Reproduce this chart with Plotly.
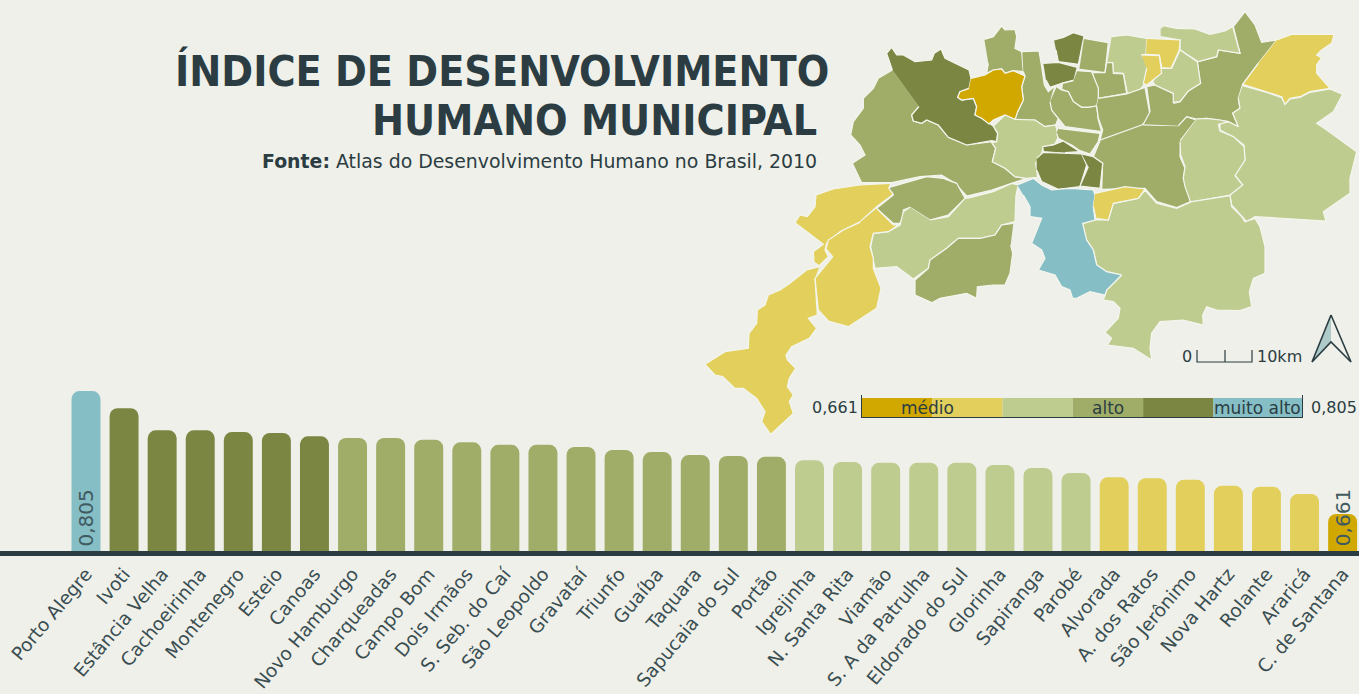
import plotly.graph_objects as go

BG = "#eff0e9"
INK = "#2b3d42"
GOLD = "#d1a800"
YELLOW = "#e2cf5c"
LIGHT = "#bfcc8f"
MID = "#a0ad69"
DARK = "#7b8642"
TEAL = "#86bec6"

municipios = ["Porto Alegre", "Ivoti", "Estância Velha", "Cachoeirinha", "Montenegro", "Esteio", "Canoas",
              "Novo Hamburgo", "Charqueadas", "Campo Bom", "Dois Irmãos", "S. Seb. do Caí", "São Leopoldo",
              "Gravataí", "Triunfo", "Guaíba", "Taquara", "Sapucaia do Sul", "Portão", "Igrejinha",
              "N. Santa Rita", "Viamão", "S. A da Patrulha", "Eldorado do Sul", "Glorinha", "Sapiranga",
              "Parobé", "Alvorada", "A. dos Ratos", "São Jerônimo", "Nova Hartz", "Rolante", "Araricá",
              "C. de Santana"]
idhm = [0.805, 0.785, 0.759, 0.759, 0.757, 0.756, 0.752, 0.750, 0.750, 0.748, 0.745, 0.742, 0.742,
        0.7395, 0.736, 0.7335, 0.730, 0.729, 0.728, 0.724, 0.722, 0.721, 0.721, 0.721, 0.7185, 0.715,
        0.709, 0.704, 0.703, 0.701, 0.694, 0.693, 0.6845, 0.661]
classes = [TEAL] + [DARK] * 6 + [MID] * 12 + [LIGHT] * 8 + [YELLOW] * 6 + [GOLD]

legend_breaks = [0.661, 0.684, 0.707, 0.730, 0.753, 0.776, 0.805]
legend_colors = [GOLD, YELLOW, LIGHT, MID, DARK, TEAL]
legend_names = [("médio", 0.6825), ("alto", 0.7415), ("muito alto", 0.7905)]


def c5(p): return [(845 + x / 3, 20 + y / 3) for x, y in p]
def c6(p): return [(1100 + x / 3, 5 + y / 3) for x, y in p]
def c7(p): return [(700 + x / 3, 175 + y / 3) for x, y in p]
def c8(p): return [(1010 + x / 3, 175 + y / 3) for x, y in p]
def c11(p): return [(1030 + x / 3, 30 + y / 3) for x, y in p]


west_big = c5([(142,150),(100,175),(85,205),(55,235),(55,265),(25,305),(17,345),(45,375),(60,405),(22,430),(50,488),(140,488),(225,470),(290,465),(330,490),(365,528),(440,510),(520,485),(545,475),(510,470),(480,445),(442,425),(452,385),(440,365),(365,375),(310,352),(280,315),(245,300),(230,310),(205,303),(200,285),(222,260)])
west_dark = c5([(142,150),(125,100),(140,82),(155,105),(175,105),(210,125),(260,120),(268,100),(288,87),(300,115),(330,130),(372,150),(378,175),(372,205),(345,215),(338,232),(350,240),(385,235),(395,260),(390,285),(410,295),(425,305),(445,318),(458,340),(455,365),(440,362),(365,375),(310,352),(280,315),(245,300),(230,310),(205,303),(200,285),(222,260)])
gold_city = c5([(378,175),(420,165),(445,150),(470,147),(480,160),(505,152),(540,168),(530,200),(535,240),(518,275),(510,298),(480,285),(445,300),(432,312),(410,295),(390,285),(395,260),(385,235),(350,240),(338,232),(345,215),(372,205)])
north_mid = c5([(418,58),(445,50),(470,18),(480,30),(510,28),(515,50),(510,85),(530,95),(535,155),(505,152),(480,160),(470,147),(445,150),(425,160),(430,130)])
column_mid = c5([(532,95),(582,93),(590,140),(598,195),(610,215),(630,198),(618,240),(620,270),(640,295),(632,315),(600,320),(570,300),(515,300),(510,298),(518,275),(535,240),(530,200),(540,168),(535,155)])
center_light = c5([(480,285),(445,318),(458,340),(455,365),(440,368),(452,385),(442,425),(480,445),(510,470),(545,475),(578,472),(572,430),(590,400),(595,380),(630,372),(640,350),(632,315),(600,320),(570,300),(515,300),(510,298)])
north_dark_a = c11([(72,30),(100,22),(130,8),(162,18),(145,103),(85,95),(78,60)])
north_dark_b = c11([(40,100),(85,97),(142,112),(132,150),(95,160),(60,172),(48,150)])
north_mid_a = c11([(162,25),(235,38),(225,128),(148,118)])
north_light = c11([(245,20),(290,15),(350,25),(348,72),(335,75),(352,100),(345,160),(325,185),(292,190),(280,130),(250,128),(248,98),(232,98)])
inner_step = c11([(190,128),(225,128),(230,98),(248,98),(250,130),(280,132),(290,190),(205,205),(205,175),(190,150)])
inner_c = c11([(142,122),(185,125),(205,175),(205,205),(200,228),(175,232),(155,232),(130,215),(115,185),(95,178),(97,160),(130,152)])
inner_d = c11([(80,170),(95,180),(115,185),(130,215),(155,232),(175,232),(200,228),(205,270),(215,305),(145,295),(105,290),(85,265),(65,240),(60,215)])
inner_e = c11([(205,205),(290,192),(345,172),(362,265),(335,285),(210,330),(218,300),(205,265),(200,228)])
inner_f = c11([(85,295),(210,310),(205,335),(180,372),(150,362),(125,345),(100,333),(85,325),(80,310)])
dark_top = c11([(40,363),(38,350),(70,345),(100,333),(150,365),(105,368)])
dark_big = c11([(20,385),(40,367),(155,372),(170,405),(150,470),(85,478),(35,455),(20,420)])
dark_right = c11([(155,372),(190,380),(218,400),(215,430),(210,475),(150,468),(175,410)])
east_mid = c6([(130,360),(235,362),(260,335),(288,345),(242,405),(240,455),(255,490),(250,520),(272,590),(230,608),(170,590),(135,550)]) + c11([(215,478),(218,400),(190,380),(210,332)])
ne_mid = c6([(130,358),(150,320),(140,245),(165,240),(220,265),(222,295),(240,290),(265,258),(300,235),(292,170),(350,155),(355,135),(420,145),(400,65),(435,20),(465,60),(485,112),(530,105),(475,175),(428,238),(415,280),(420,310),(398,325),(415,365),(385,350),(320,340),(290,342),(260,335),(235,362)])
ne_yellow = c6([(530,105),(575,88),(702,88),(695,115),(665,135),(650,150),(665,158),(650,180),(650,205),(690,250),(630,260),(600,275),(570,280),(555,298),(545,275),(500,260),(428,238),(475,175)])
east_light = c6([(428,242),(500,262),(545,278),(555,298),(570,282),(600,277),(630,262),(690,252),(728,268),(700,320),(650,355),(680,375),(770,440),(750,520),(750,565),(670,620),(678,648),(465,635),(440,650),(395,600),(390,570),(428,540),(405,510),(435,465),(432,420),(400,395),(360,375),(360,355),(385,350),(415,365),(398,325),(420,310),(415,280)])
east_inner = c6([(290,342),(320,340),(360,345),(385,350),(355,358),(360,378),(400,395),(432,425),(435,465),(405,512),(428,540),(390,570),(272,592),(255,545),(250,520),(255,485),(242,450),(240,410)])
top_light = c6([(182,70),(190,62),(230,70),(285,72),(330,88),(375,78),(398,65),(420,145),(355,135),(350,155),(295,170),(240,135),(240,105),(182,95)])
small_light = c6([(180,190),(215,190),(240,135),(292,170),(302,235),(265,258),(240,290),(220,292),(220,265),(165,240),(160,232)])
top_yellow = c6([(140,100),(240,105),(238,135),(213,190),(185,188),(178,150),(138,148)])
low_yellow = c6([(125,150),(178,152),(185,205),(140,240),(130,235),(140,190)])
nw_yellow = c7([(570,25),(480,30),(400,42),(348,60),(345,95),(322,125),(300,120),(285,143),(370,208),(340,230),(342,262),(358,272),(385,245),(375,225),(380,205),(420,170),(480,140),(530,95),(580,58),(565,38)])
sw_yellow = c7([(358,275),(320,285),(270,325),(240,345),(205,360),(195,390),(172,405),(170,445),(147,475),(145,520),(75,530),(15,568),(45,600),(68,605),(105,640),(130,640),(170,670),(195,710),(185,740),(212,778),(280,715),(268,680),(280,660),(262,635),(268,610),(287,580),(262,555),(258,540),(275,515),(328,490),(350,460),(325,430),(352,420),(345,310)])
oval_yellow = c7([(530,100),(580,150),(595,150),(565,170),(520,175),(510,215),(520,250),(520,280),(543,340),(530,400),(445,455),(385,438),(355,405),(345,310),(398,245),(378,222),(385,195),(430,165),(480,142)])
river_mid = c7([(580,60),(530,100),(580,145),(600,145),(610,125),(610,105),(630,97),(690,135),(745,120),(795,70),(770,25),(730,10),(680,5),(590,30),(565,38)])
band_light = c7([(630,97),(610,110),(600,150),(565,170),(520,175),(512,215),(520,255),(525,280),(590,275),(640,312),(685,280),(690,255),(740,220),(775,190),(840,190),(885,180),(905,150),(945,140),(948,60),(955,30),(935,25),(880,50),(810,68),(795,70),(745,125),(690,135)])
south_mid = c7([(940,145),(905,150),(885,180),(840,190),(775,190),(740,220),(690,255),(685,280),(645,315),(645,360),(695,383),(720,370),(800,355),(830,370),(832,335),(880,330),(915,330),(930,295),(938,235),(932,210)])
capital_teal = c8([(22,30),(70,10),(95,30),(125,45),(180,40),(250,45),(255,60),(250,95),(255,135),(218,145),(230,195),(250,225),(260,270),(290,290),(335,300),(290,345),(285,360),(240,350),(200,370),(188,370),(180,345),(155,335),(135,300),(85,285),(105,250),(95,225),(65,205),(75,180),(95,130),(60,125),(60,95),(40,60)])
small_yellow = c8([(255,55),(320,42),(345,35),(405,42),(385,70),(310,85),(295,135),(258,130),(250,95)])
se_light = c8([(220,145),(255,135),(295,135),(310,85),(385,70),(405,45),(440,85),(500,100),(545,80),(660,62),(665,95),(695,125),(705,140),(735,130),(750,155),(765,215),(765,295),(730,310),(718,350),(725,395),(690,407),(620,405),(590,395),(578,420),(580,450),(520,435),(450,440),(425,475),(420,520),(425,555),(370,520),(292,510),(305,490),(285,472),(325,430),(330,400),(310,380),(280,375),(290,345),(335,300),(290,290),(260,270),(250,225),(230,195)])

map_regions = [
    (west_big, MID), (west_dark, DARK), (north_mid, MID), (column_mid, MID), (center_light, LIGHT), (gold_city, GOLD),
    (north_dark_a, DARK), (north_dark_b, DARK), (north_mid_a, MID), (north_light, LIGHT), (inner_step, MID),
    (inner_c, MID), (inner_d, MID), (inner_e, MID), (inner_f, MID), (east_mid, MID), (ne_mid, MID),
    (east_light, LIGHT), (east_inner, LIGHT), (top_light, LIGHT), (small_light, LIGHT), (ne_yellow, YELLOW),
    (top_yellow, YELLOW), (low_yellow, YELLOW), (dark_top, DARK), (dark_big, DARK), (dark_right, DARK),
    (river_mid, MID), (band_light, LIGHT), (south_mid, MID), (se_light, LIGHT), (capital_teal, TEAL),
    (small_yellow, YELLOW), (sw_yellow, YELLOW), (nw_yellow, YELLOW), (oval_yellow, YELLOW),
]

scale_bar = [(1197, 350), (1197, 362), (1225, 362), (1225, 350), (1225, 362), (1252, 362), (1252, 350)]
arrow_fill = [(1331, 315), (1312, 362), (1331, 342)]
arrow_line = [(1331, 315), (1312, 362), (1331, 342), (1351, 362), (1331, 315)]

fig = go.Figure()

fig.add_trace(go.Bar(x=municipios, y=idhm, width=0.76, marker=dict(color=classes, cornerradius=8, line_width=0),
                     xaxis="x", yaxis="y", showlegend=False))

for pts, col in map_regions:
    fig.add_trace(go.Scatter(x=[p[0] for p in pts], y=[p[1] for p in pts], mode="lines", fill="toself",
                             fillcolor=col, line=dict(color="#f4f6ee", width=1.2), xaxis="x2", yaxis="y2",
                             showlegend=False, hoverinfo="skip"))

fig.add_trace(go.Scatter(x=[p[0] for p in arrow_fill], y=[p[1] for p in arrow_fill], mode="none", fill="toself",
                         fillcolor="#aecbc9", xaxis="x2", yaxis="y2", showlegend=False, hoverinfo="skip"))
fig.add_trace(go.Scatter(x=[p[0] for p in arrow_line], y=[p[1] for p in arrow_line], mode="lines",
                         line=dict(color=INK, width=1.6), xaxis="x2", yaxis="y2", showlegend=False, hoverinfo="skip"))
fig.add_trace(go.Scatter(x=[p[0] for p in scale_bar], y=[p[1] for p in scale_bar], mode="lines",
                         line=dict(color=INK, width=1.2), xaxis="x2", yaxis="y2", showlegend=False, hoverinfo="skip"))

fig.add_trace(go.Bar(y=[0] * 6, x=[b - a for a, b in zip(legend_breaks, legend_breaks[1:])], base=legend_breaks[:-1],
                     orientation="h", width=1, marker=dict(color=legend_colors, line_width=0), xaxis="x3", yaxis="y3",
                     showlegend=False))

TITLE_FONT = "DejaVu Sans Condensed, Open Sans"
notes = [
    dict(text="<b>ÍNDICE DE DESENVOLVIMENTO</b>", x=831, y=71, xanchor="right", size=42.6, family=TITLE_FONT),
    dict(text="<b>HUMANO MUNICIPAL</b>", x=819, y=120, xanchor="right", size=42.6, family=TITLE_FONT),
    dict(text="<b>Fonte:</b> Atlas do Desenvolvimento Humano no Brasil, 2010", x=819, y=161, xanchor="right", size=18.9),
    dict(text="0", x=1187, y=356, xanchor="center", size=16),
    dict(text="10km", x=1255, y=356, xanchor="left", size=16),
    dict(text="0,661", x=860, y=407, xanchor="right", size=16),
    dict(text="0,805", x=1309, y=407, xanchor="left", size=16),
]
ann = [dict(text=n["text"], x=n["x"], y=n["y"], xref="x2", yref="y2", xanchor=n["xanchor"], yanchor="middle",
            showarrow=False, font=dict(family=n.get("family", "DejaVu Sans"), size=n["size"], color=INK))
       for n in notes]
for name, mid in legend_names:
    ann.append(dict(text=name, x=mid, y=0, xref="x3", yref="y3", showarrow=False,
                    font=dict(family="DejaVu Sans", size=17, color=INK)))
for i in (0, len(idhm) - 1):
    ann.append(dict(text=f"{idhm[i]:.3f}".replace(".", ","), x=municipios[i], y=0.6177, xref="x", yref="y",
                    textangle=-90, yanchor="bottom", yshift=3, showarrow=False,
                    font=dict(family="DejaVu Sans", size=20, color="#3f5a60")))

hidden = dict(visible=False, showgrid=False, zeroline=False)
fig.update_layout(
    width=1359, height=694, margin=dict(l=0, r=0, t=0, b=0), paper_bgcolor=BG, plot_bgcolor="rgba(0,0,0,0)",
    barmode="overlay", showlegend=False, annotations=ann, hovermode=False,
    xaxis=dict(domain=[0, 1], type="category", categoryorder="array", categoryarray=municipios,
               range=[-2.258, 33.43], showgrid=False, zeroline=False, showline=True, linecolor=INK, linewidth=5,
               ticks="", tickangle=-50, tickfont=dict(family="DejaVu Sans", size=18.5, color="#3a4e52"), anchor="y",
               automargin=False),
    yaxis=dict(domain=[(694 - 551) / 694, 1], range=[0.6177, 1.2629], anchor="x", **hidden),
    xaxis2=dict(domain=[0, 1], range=[0, 1359], anchor="y2", **hidden),
    yaxis2=dict(domain=[0, 1], range=[694, 0], anchor="x2", **hidden),
    xaxis3=dict(domain=[862 / 1359, 1302 / 1359], range=[0.661, 0.805], anchor="y3", showline=True, linecolor=INK,
                linewidth=1.2, showgrid=False, zeroline=False, showticklabels=False, ticks=""),
    yaxis3=dict(domain=[(694 - 417) / 694, (694 - 395) / 694], range=[-0.5, 0.658], anchor="x3", showline=True,
                mirror=True, linecolor=INK, linewidth=1.2, showgrid=False, zeroline=False, showticklabels=False, ticks=""),
)

fig.write_html("out.html", config={"displayModeBar": False},
               post_script="document.body.style.margin='0';document.body.style.background='#eff0e9';document.body.style.overflow='hidden';")
